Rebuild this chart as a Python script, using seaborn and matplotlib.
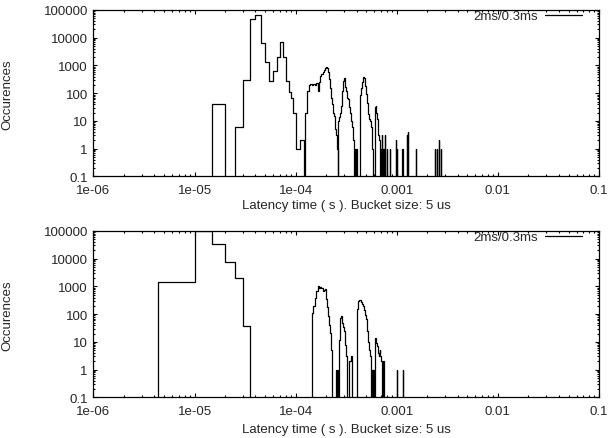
import numpy as np
import pandas as pd
import matplotlib
matplotlib.use("Agg")
import matplotlib.pyplot as plt
import seaborn as sns
from matplotlib.lines import Line2D
from matplotlib.ticker import LogLocator, NullFormatter, FixedLocator

BUCKET_US = 5

# Upper run: start of each non-empty 5 us bucket (us) and its occurrences
upper_start_us = [15, 25, 30, 35, 40, 45, 50, 55, 60, 65, 70, 75, 80, 85, 90, 95, 100, 105, 110, 115,
                  125, 130, 135, 140, 145, 150, 155, 160, 165, 170, 175, 180, 185, 190, 195, 200, 205,
                  210, 215, 220, 225, 230, 235, 240, 245, 250, 255,
                  265, 270, 275, 280, 285, 290, 295, 300, 305, 310, 315, 320, 325, 330, 335, 340, 345,
                  350, 355, 360, 365, 370, 375,
                  385, 395,
                  430, 435, 440, 445, 450, 455, 460, 465, 470, 475, 480, 485, 490, 495, 500, 505, 510,
                  515, 520, 525, 530, 535, 540, 545, 550, 555, 560, 565, 570, 575, 580,
                  605, 610, 615, 620, 625, 630, 635, 640, 645, 650, 655, 660, 665, 670, 675, 680,
                  700, 710, 725, 735, 750, 765, 795, 855, 980, 1000, 1135, 1255, 1280, 1540,
                  2385, 2480, 2615, 2720]
upper_count = [40, 6, 300, 48000, 68000, 6300, 1300, 270, 650, 2100, 7200, 2000, 280, 107, 70, 20, 1, 1, 2, 2,
               20, 120, 200, 210, 200, 210, 200, 230, 120, 250, 420, 500, 570, 700, 790, 850, 820,
               570, 330, 150, 70, 40, 20, 15, 5, 3, 1,
               10, 14, 20, 35, 40, 120, 280, 340, 300, 165, 120, 70, 65, 62, 45, 32, 20,
               12, 10, 6, 4, 2, 1,
               1, 1,
               62, 90, 120, 160, 187, 250, 320, 370, 360, 340, 280, 230, 187, 140, 95, 60, 45,
               35, 25, 18, 12, 12, 10, 10, 9, 9, 6, 4, 4, 1, 1,
               27, 30, 33, 35, 35, 20, 15, 12, 6, 4, 3, 2, 3, 2, 2, 2,
               1, 3, 1, 1, 1, 3, 1, 1, 2, 1, 1, 3, 4, 1,
               1, 1, 2, 1]

# Lower run
lower_start_us = [4.3, 10, 15, 20, 25, 30,
                  145, 150, 155, 160, 165, 170, 175, 180, 185, 190, 195, 200, 205, 210, 215, 220, 225,
                  250, 260,
                  270, 275, 280, 285, 290, 295, 300, 305, 310, 315, 320,
                  340, 345, 350, 355,
                  405, 410, 415, 420, 425, 430, 435, 440, 445, 450, 455, 460, 465, 470, 475, 480,
                  485, 490, 495, 500, 505, 510, 515, 520, 525, 530, 535, 540, 545, 550, 555,
                  565, 575, 585,
                  605, 610, 615, 620, 625, 630, 635, 640, 645, 650, 655, 660, 665, 670, 675, 680,
                  685, 690, 695, 700, 705, 710, 715,
                  735, 1000, 1160]
lower_count = [1400, 100000, 35000, 7400, 2000, 38,
               113, 195, 400, 690, 1050, 900, 950, 900, 690, 750, 800, 350, 180, 85, 40, 21, 5,
               1, 1,
               12, 75, 86, 70, 50, 35, 25, 16, 8, 3, 3,
               2, 2, 3, 3,
               150, 250, 300, 310, 320, 330, 320, 300, 280, 270, 240, 220, 195, 170, 140, 120,
               113, 95, 80, 65, 45, 25, 20, 15, 10, 7, 5, 3, 3, 2, 1,
               1, 1, 1,
               9, 12, 14, 14, 12, 9, 9, 7, 5, 4, 4, 4, 3, 4, 5, 5,
               4, 3, 3, 2, 2, 2, 2,
               2, 1, 1]

series_label = "2ms/0.3ms"
x_label = "Latency time ( s ). Bucket size: 5 us"
y_label = "Occurences"
x_ticks = [1e-6, 1e-5, 1e-4, 1e-3, 1e-2, 1e-1]
x_tick_labels = ["1e-06", "1e-05", "1e-04", "0.001", "0.01", "0.1"]
y_ticks = [0.1, 1, 10, 100, 1000, 10000, 100000]
y_tick_labels = ["0.1", "1", "10", "100", "1000", "10000", "100000"]

FONT_SIZE = 9.5
LINE_W = 0.9


def step_table(starts_us, counts):
    """Step outline of a bucket histogram; buckets not listed are empty."""
    xs, ys = [starts_us[0]], [0]
    for i, (s, c) in enumerate(zip(starts_us, counts)):
        xs.append(s)
        ys.append(c)
        nxt = starts_us[i + 1] if i + 1 < len(starts_us) else None
        if nxt is None or nxt - s > 1.5 * BUCKET_US:
            xs.append(s + BUCKET_US)
            ys.append(0)
    return pd.DataFrame({"latency": np.array(xs) * 1e-6, "occurences": ys})


sns.set_theme(style="ticks")
plt.rcParams["font.family"] = ["Liberation Sans", "DejaVu Sans"]
plt.rcParams["font.size"] = FONT_SIZE

fig = plt.figure(figsize=(6.11, 4.39), dpi=100)
ax_top = fig.add_axes([0.1530, 0.5957, 0.8273, 0.3793])
ax_bot = fig.add_axes([0.1530, 0.0923, 0.8273, 0.3793])

for ax, starts, counts, xlab_y in ((ax_top, upper_start_us, upper_count, -0.135),
                                   (ax_bot, lower_start_us, lower_count, -0.155)):
    df = step_table(starts, counts)
    sns.lineplot(data=df, x="latency", y="occurences", drawstyle="steps-post",
                 estimator=None, sort=False, color="black", linewidth=LINE_W,
                 legend=False, ax=ax)
    ax.set_xscale("log")
    ax.set_yscale("log")
    ax.set_xlim(1e-6, 0.1)
    ax.set_ylim(0.1, 1e5)
    ax.xaxis.set_major_locator(FixedLocator(x_ticks))
    ax.set_xticklabels(x_tick_labels)
    ax.yaxis.set_major_locator(FixedLocator(y_ticks))
    ax.set_yticklabels(y_tick_labels)
    ax.xaxis.set_minor_locator(LogLocator(base=10, subs=range(2, 10)))
    ax.yaxis.set_minor_locator(LogLocator(base=10, subs=range(2, 10)))
    ax.xaxis.set_minor_formatter(NullFormatter())
    ax.yaxis.set_minor_formatter(NullFormatter())
    ax.tick_params(which="both", direction="in", top=True, right=True,
                   color="black", labelsize=FONT_SIZE, width=0.8)
    ax.tick_params(which="major", length=3.2)
    ax.tick_params(axis="y", which="major", pad=4)
    ax.tick_params(axis="x", which="major", pad=5.5)
    ax.tick_params(which="minor", length=1.6)
    for sp in ax.spines.values():
        sp.set_color("black")
        sp.set_linewidth(0.9)
    ax.set_xlabel(x_label, fontsize=FONT_SIZE)
    ax.set_ylabel(y_label, fontsize=FONT_SIZE)
    ax.xaxis.set_label_coords(0.5, xlab_y)
    ax.yaxis.set_label_coords(-0.159, 0.5)
    handle = Line2D([0], [0], color="black", linewidth=LINE_W)
    ax.legend([handle], [series_label], loc="center right",
              bbox_to_anchor=(0.966, 0.962), frameon=False,
              markerfirst=False, handlelength=2.75, handletextpad=0.6,
              borderpad=0, borderaxespad=0, fontsize=FONT_SIZE)

fig.savefig("out.png", dpi=100)
